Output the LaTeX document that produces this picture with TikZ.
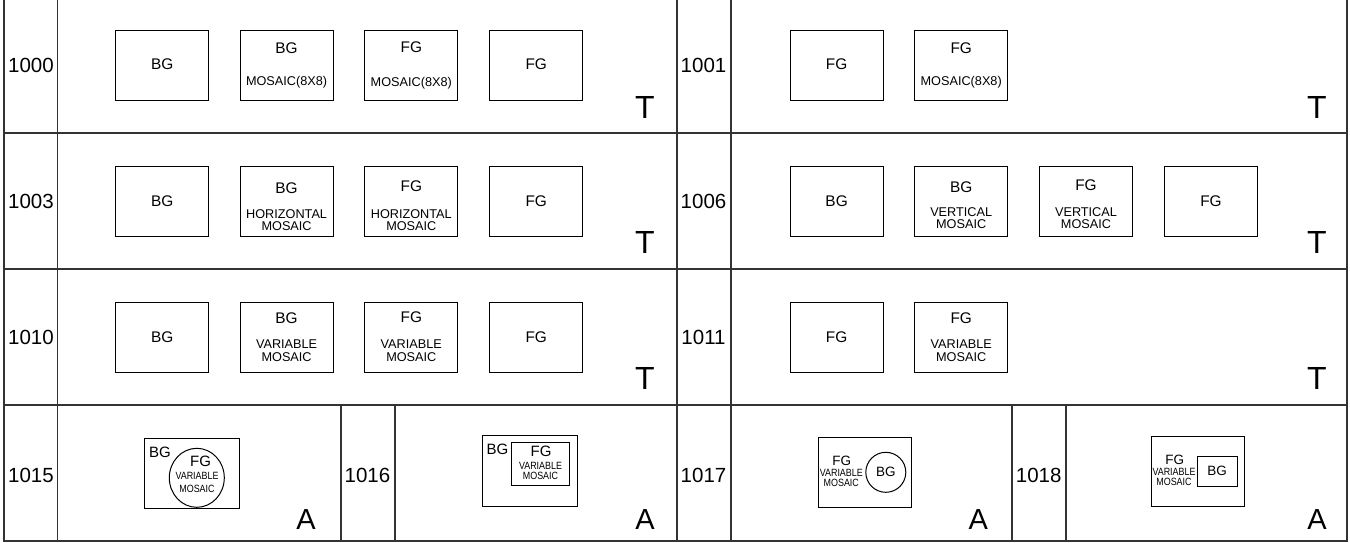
\documentclass[tikz,border=0pt]{standalone}
\usepackage{fontspec}
\usetikzlibrary{shapes.geometric}
\setmainfont{Liberation Sans}
\newfontfamily\narrowfont[FakeStretch=0.85]{Liberation Sans}
\begin{document}
\begin{tikzpicture}[x=1pt,y=-1pt,
  gridline/.style={line width=1.2pt, draw=black!80},
  bx/.style={draw, line width=1pt, minimum width=92.8pt, minimum height=70pt, inner sep=0pt},
  lbl/.style={font=\fontsize{15.4}{16}\selectfont, inner sep=0pt},
  sub/.style={font=\fontsize{12.7}{12}\selectfont, inner sep=0pt, align=center},
  subv/.style={font=\fontsize{12.7}{12.7}\selectfont, inner sep=0pt, align=center},
  num/.style={font=\fontsize{20.5}{21}\selectfont, inner sep=0pt},
  bigT/.style={font=\fontsize{32}{32}\selectfont, inner sep=0pt},
  bigA/.style={font=\fontsize{29}{29}\selectfont, inner sep=0pt},
  lbla/.style={font=\fontsize{15}{15}\selectfont, inner sep=0pt},
  lblb/.style={font=\fontsize{13.5}{13.5}\selectfont, inner sep=0pt},
  tiny/.style={font=\narrowfont\fontsize{10.5}{#1}\selectfont, inner sep=0pt, align=center}
]
\useasboundingbox (0,0) rectangle (1350,542);
% grid
\draw[gridline] (4,0) -- (4,541) -- (1347,541) -- (1347,0);
\draw[gridline] (57.5,0) -- (57.5,541);
\draw[gridline] (677,0) -- (677,541);
\draw[gridline] (731,0) -- (731,541);
\draw[gridline] (4,133) -- (1347,133);
\draw[gridline] (4,269) -- (1347,269);
\draw[gridline] (4,405) -- (1347,405);
\draw[gridline] (341,405) -- (341,541);
\draw[gridline] (395,405) -- (395,541);
\draw[gridline] (1012,405) -- (1012,541);
\draw[gridline] (1066,405) -- (1066,541);
% numbers
\node[num] (n1000) at (31,65) {1000};
\node[num] (n1003) at (31,201) {1003};
\node[num] (n1010) at (31,337) {1010};
\node[num] (n1015) at (31,475) {1015};
\node[num] (n1001) at (703.5,65) {1001};
\node[num] (n1006) at (703.5,201) {1006};
\node[num] (n1011) at (703.5,337) {1011};
\node[num] (n1017) at (703.5,475) {1017};
\node[num] (n1016) at (367.5,475) {1016};
\node[num] (n1018) at (1038.7,475) {1018};
% row 1
\node[bx] (a1) at (162.2,65) {};
\node[bx] (a2) at (286.6,65) {};
\node[bx] (a3) at (411.3,65) {};
\node[bx] (a4) at (536.2,65) {};
\node[lbl] (a1t) at (162.2,64) {BG};
\node[lbl] (a2t) at (286.6,48) {BG};
\node[sub] (a2s) at (286.6,82.5) {MOSAIC(8X8)};
\node[lbl] (a3t) at (411.3,47.5) {FG};
\node[sub] (a3s) at (411.3,83) {MOSAIC(8X8)};
\node[lbl] (a4t) at (536.2,64) {FG};
\node[bigT] (aT) at (645,107) {T};
\node[bx] (b1) at (836.6,65) {};
\node[bx] (b2) at (961.2,65) {};
\node[lbl] (b1t) at (836.6,64) {FG};
\node[lbl] (b2t) at (961.2,48) {FG};
\node[sub] (b2s) at (961.2,82.5) {MOSAIC(8X8)};
\node[bigT] (bT) at (1317,107) {T};
% row 2
\node[bx] (c1) at (162.2,201) {};
\node[bx] (c2) at (286.6,201) {};
\node[bx] (c3) at (411.3,201) {};
\node[bx] (c4) at (536.2,201) {};
\node[lbl] (c1t) at (162.2,201) {BG};
\node[lbl] (c2t) at (286.6,188) {BG};
\node[sub] (c2s) at (286.6,220) {HORIZONTAL\\MOSAIC};
\node[lbl] (c3t) at (411.3,186.5) {FG};
\node[sub] (c3s) at (411.3,220) {HORIZONTAL\\MOSAIC};
\node[lbl] (c4t) at (536.2,201) {FG};
\node[bigT] (cT) at (645,242) {T};
\node[bx] (d1) at (836.6,201) {};
\node[bx] (d2) at (961.2,201) {};
\node[bx] (d3) at (1086,201) {};
\node[bx] (d4) at (1211,201) {};
\node[lbl] (d1t) at (836.6,201) {BG};
\node[lbl] (d2t) at (961.2,187) {BG};
\node[sub] (d2s) at (961.2,218) {VERTICAL\\MOSAIC};
\node[lbl] (d3t) at (1086,185.5) {FG};
\node[sub] (d3s) at (1086,218) {VERTICAL\\MOSAIC};
\node[lbl] (d4t) at (1211,201) {FG};
\node[bigT] (dT) at (1317,242) {T};
% row 3
\node[bx] (e1) at (162.2,337) {};
\node[bx] (e2) at (286.6,337) {};
\node[bx] (e3) at (411.3,337) {};
\node[bx] (e4) at (536.2,337) {};
\node[lbl] (e1t) at (162.2,337) {BG};
\node[lbl] (e2t) at (286.6,318) {BG};
\node[subv] (e2s) at (286.6,350.5) {VARIABLE\\MOSAIC};
\node[lbl] (e3t) at (411.3,317) {FG};
\node[subv] (e3s) at (411.3,350.5) {VARIABLE\\MOSAIC};
\node[lbl] (e4t) at (536.2,337) {FG};
\node[bigT] (eT) at (645,378) {T};
\node[bx] (f1) at (836.6,337) {};
\node[bx] (f2) at (961.2,337) {};
\node[lbl] (f1t) at (836.6,337) {FG};
\node[lbl] (f2t) at (961.2,318) {FG};
\node[subv] (f2s) at (961.2,350.5) {VARIABLE\\MOSAIC};
\node[bigT] (fT) at (1317,378) {T};
% row 4 : 1015
\node[draw, line width=1pt, minimum width=95pt, minimum height=70.7pt, inner sep=0pt] (g1) at (191.5,473.6) {};
\node[draw, line width=1pt, ellipse, minimum width=55pt, minimum height=59pt, inner sep=0pt] (g1e) at (196.8,477.8) {};
\node[lbla] (g1b) at (160,452.2) {BG};
\node[lbla] (g1f) at (200.5,461.2) {FG};
\node[tiny=13.3] (g1s) at (197,482.2) {VARIABLE\\MOSAIC};
\node[bigA] (g1A) at (306,520) {A};
% 1016
\node[draw, line width=1pt, minimum width=95pt, minimum height=70.3pt, inner sep=0pt] (h1) at (530.2,470.9) {};
\node[draw, line width=1pt, minimum width=57.3pt, minimum height=42.7pt, inner sep=0pt] (h1r) at (540.4,463.7) {};
\node[lbla] (h1b) at (497.5,449.2) {BG};
\node[lbla] (h1f) at (541,451.2) {FG};
\node[tiny=9.6] (h1s) at (540.5,471) {VARIABLE\\MOSAIC};
\node[bigA] (h1A) at (645,520) {A};
% 1017
\node[draw, line width=1pt, minimum width=92.3pt, minimum height=70pt, inner sep=0pt] (k1) at (864.9,472.3) {};
\node[draw, line width=1pt, circle, minimum size=40pt, inner sep=0pt] (k1c) at (885.8,472.3) {};
\node[lblb] (k1b) at (885.8,472) {BG};
\node[lblb] (k1f) at (841.7,461) {FG};
\node[tiny=10.5] (k1s) at (841.3,477.8) {VARIABLE\\MOSAIC};
\node[bigA] (k1A) at (978.4,520) {A};
% 1018
\node[draw, line width=1pt, minimum width=93.2pt, minimum height=70pt, inner sep=0pt] (m1) at (1198,471) {};
\node[draw, line width=1pt, minimum width=39.9pt, minimum height=30pt, inner sep=0pt] (m1r) at (1217.2,471) {};
\node[lblb] (m1b) at (1217.2,471) {BG};
\node[lblb] (m1f) at (1174.8,459.7) {FG};
\node[tiny=10] (m1s) at (1174,477) {VARIABLE\\MOSAIC};
\node[bigA] (m1A) at (1317,520) {A};
\end{tikzpicture}
\end{document}
